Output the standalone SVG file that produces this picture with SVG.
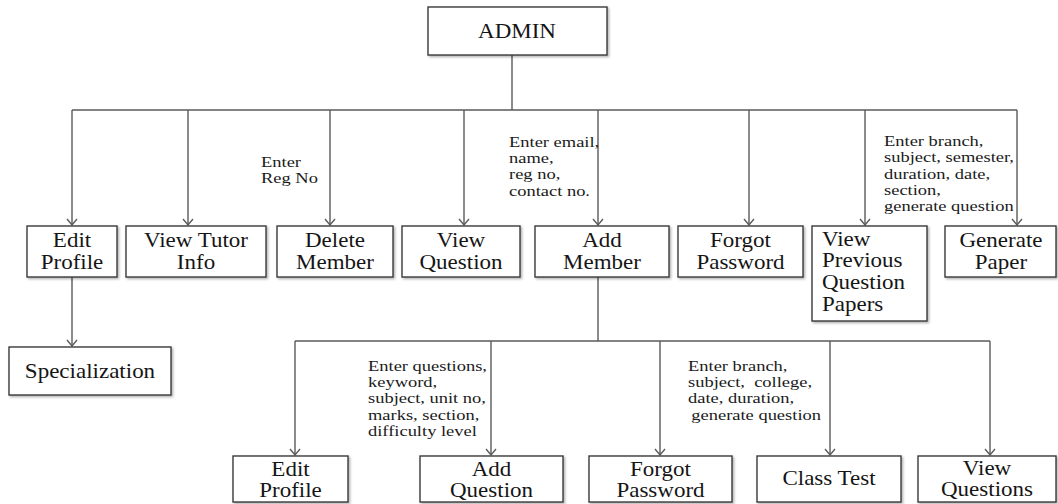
<svg xmlns="http://www.w3.org/2000/svg" width="1058" height="504" viewBox="0 0 1058 504">
<style>
  .box { fill: #ffffff; stroke: #3a3a3a; stroke-width: 1.4; filter: url(#sh); }
  .b { font-family: "Liberation Serif", "Times New Roman", serif; font-size: 20px; fill: #151515; text-anchor: middle; }
  .lbl { font-family: "Liberation Serif", "Times New Roman", serif; font-size: 14px; fill: #1a1a1a; }
  .ln { fill: none; stroke: #5a5a5a; stroke-width: 1.4; }
  .arr { fill: none; stroke: #5a5a5a; stroke-width: 1.4; marker-end: url(#ah); }
</style>
<defs>
  <filter id="sh" x="-10%" y="-10%" width="130%" height="140%">
    <feDropShadow dx="1.5" dy="1.5" stdDeviation="1" flood-color="#000000" flood-opacity="0.3"/>
  </filter>
  <marker id="ah" viewBox="-1 -1 8 12" markerUnits="userSpaceOnUse" markerWidth="8" markerHeight="12" refX="6" refY="5" orient="auto" overflow="visible">
    <path d="M0,0 L6,5 L0,10" fill="none" stroke="#5a5a5a" stroke-width="1.4"/>
  </marker>
</defs>
<rect width="1058" height="504" fill="#ffffff"/>

<g id="connectors">
  <path class="ln" d="M512,55 V110"/>
  <path class="ln" d="M72,110 H1017"/>
  <path class="arr" d="M72,110 V225"/>
  <path class="arr" d="M188,110 V225"/>
  <path class="arr" d="M330,110 V225"/>
  <path class="arr" d="M464,110 V225"/>
  <path class="arr" d="M598,110 V225"/>
  <path class="arr" d="M749,110 V225"/>
  <path class="arr" d="M865,110 V225"/>
  <path class="arr" d="M1017,110 V225"/>
  <path class="arr" d="M72,277 V346"/>
  <path class="ln" d="M598,277 V341"/>
  <path class="ln" d="M295,341 H990"/>
  <path class="arr" d="M295,341 V455"/>
  <path class="arr" d="M491,341 V455"/>
  <path class="arr" d="M660,341 V455"/>
  <path class="arr" d="M830,341 V455"/>
  <path class="arr" d="M990,341 V455"/>
</g>

<g id="labels">
  <text class="lbl" transform="translate(261,166.7) scale(1.32,1)"><tspan x="0">Enter</tspan><tspan x="0" dy="16">Reg No</tspan></text>
  <text class="lbl" transform="translate(509,146.7) scale(1.32,1)"><tspan x="0">Enter email,</tspan><tspan x="0" dy="16.3">name,</tspan><tspan x="0" dy="16.3">reg no,</tspan><tspan x="0" dy="16.3">contact no.</tspan></text>
  <text class="lbl" transform="translate(884,146) scale(1.32,1)"><tspan x="0">Enter branch,</tspan><tspan x="0" dy="16.3">subject, semester,</tspan><tspan x="0" dy="16.3">duration, date,</tspan><tspan x="0" dy="16.3">section,</tspan><tspan x="0" dy="16.3">generate question</tspan></text>
  <text class="lbl" transform="translate(368,370.7) scale(1.32,1)"><tspan x="0">Enter questions,</tspan><tspan x="0" dy="16.3">keyword,</tspan><tspan x="0" dy="16.3">subject, unit no,</tspan><tspan x="0" dy="16.3">marks, section,</tspan><tspan x="0" dy="16.3">difficulty level</tspan></text>
  <text class="lbl" transform="translate(688,370.7) scale(1.32,1)" xml:space="preserve"><tspan x="0">Enter branch,</tspan><tspan x="0" dy="16.3">subject,  college,</tspan><tspan x="0" dy="16.3">date, duration,</tspan><tspan x="2.5" dy="16.3">generate question</tspan></text>
</g>

<g id="admin">
  <rect class="box" x="428" y="7" width="179" height="48"/>
  <text class="b" transform="translate(517,38) scale(1.15,1)">ADMIN</text>
</g>

<g id="edit-profile">
  <rect class="box" x="27" y="226" width="90" height="51"/>
  <text class="b" transform="translate(72,247) scale(1.15,1)"><tspan x="0">Edit</tspan><tspan x="0" dy="22">Profile</tspan></text>
</g>
<g id="view-tutor-info">
  <rect class="box" x="126" y="226" width="140" height="51"/>
  <text class="b" transform="translate(196,247) scale(1.15,1)"><tspan x="0">View Tutor</tspan><tspan x="0" dy="22">Info</tspan></text>
</g>
<g id="delete-member">
  <rect class="box" x="277" y="226" width="116" height="51"/>
  <text class="b" transform="translate(335,247) scale(1.15,1)"><tspan x="0">Delete</tspan><tspan x="0" dy="22">Member</tspan></text>
</g>
<g id="view-question">
  <rect class="box" x="402" y="226" width="118" height="51"/>
  <text class="b" transform="translate(461,247) scale(1.15,1)"><tspan x="0">View</tspan><tspan x="0" dy="22">Question</tspan></text>
</g>
<g id="add-member">
  <rect class="box" x="535" y="226" width="134" height="51"/>
  <text class="b" transform="translate(602,247) scale(1.15,1)"><tspan x="0">Add</tspan><tspan x="0" dy="22">Member</tspan></text>
</g>
<g id="forgot-password">
  <rect class="box" x="678" y="226" width="125" height="51"/>
  <text class="b" transform="translate(740.5,247) scale(1.15,1)"><tspan x="0">Forgot</tspan><tspan x="0" dy="22">Password</tspan></text>
</g>
<g id="view-previous-question-papers">
  <rect class="box" x="812" y="226" width="115" height="95"/>
  <text class="b" style="text-anchor:start" transform="translate(822,245.7) scale(1.15,1)"><tspan x="0">View</tspan><tspan x="0" dy="21.7">Previous</tspan><tspan x="0" dy="21.7">Question</tspan><tspan x="0" dy="21.7">Papers</tspan></text>
</g>
<g id="generate-paper">
  <rect class="box" x="945" y="226" width="111" height="51"/>
  <text class="b" transform="translate(1001,247) scale(1.15,1)"><tspan x="0">Generate</tspan><tspan x="0" dy="22">Paper</tspan></text>
</g>
<g id="specialization">
  <rect class="box" x="9" y="347" width="162" height="48"/>
  <text class="b" transform="translate(90,378) scale(1.15,1)">Specialization</text>
</g>

<g id="edit-profile-2">
  <rect class="box" x="233" y="456" width="115" height="46"/>
  <text class="b" transform="translate(290.5,476) scale(1.15,1)"><tspan x="0">Edit</tspan><tspan x="0" dy="21">Profile</tspan></text>
</g>
<g id="add-question">
  <rect class="box" x="420" y="456" width="143" height="46"/>
  <text class="b" transform="translate(491.5,476) scale(1.15,1)"><tspan x="0">Add</tspan><tspan x="0" dy="21">Question</tspan></text>
</g>
<g id="forgot-password-2">
  <rect class="box" x="589" y="456" width="143" height="46"/>
  <text class="b" transform="translate(660.5,476) scale(1.15,1)"><tspan x="0">Forgot</tspan><tspan x="0" dy="21">Password</tspan></text>
</g>
<g id="class-test">
  <rect class="box" x="757" y="456" width="144" height="46"/>
  <text class="b" transform="translate(829,485) scale(1.15,1)">Class Test</text>
</g>
<g id="view-questions">
  <rect class="box" x="918" y="456" width="138" height="46"/>
  <text class="b" transform="translate(987,475) scale(1.15,1)"><tspan x="0">View</tspan><tspan x="0" dy="21">Questions</tspan></text>
</g>
</svg>
